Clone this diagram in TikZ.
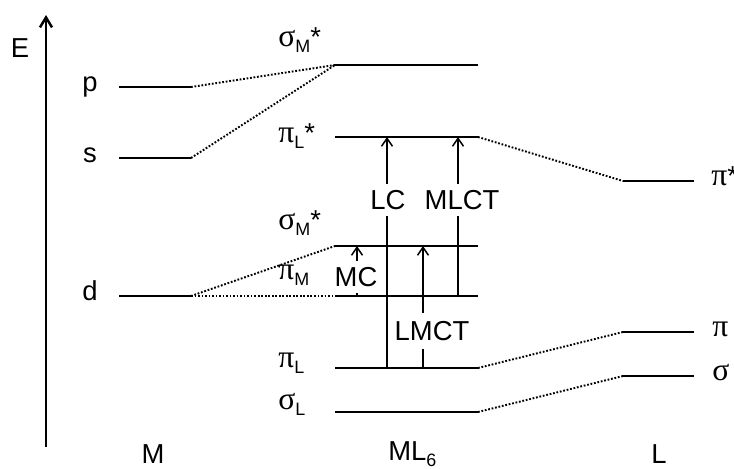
\documentclass[tikz,border=0pt]{standalone}
\usepackage{fontspec}
\setmainfont{Liberation Sans}
\newfontfamily\grk{Liberation Serif}
\usetikzlibrary{arrows.meta}
\tikzset{
	axis/.style   ={line width=1.4pt, -{Straight Barb[length=2mm, width=2.4mm]}},
	level/.style  ={line width=1.15pt},
	corr/.style   ={line width=1.1pt, dash pattern=on 1pt off 1pt},
	trans/.style  ={line width=0.85pt, -{Straight Barb[length=1.6mm, width=2.2mm]}},
	tlab/.style   ={fill=white, inner xsep=1pt, inner ysep=3.5pt, text depth=0pt},
	orb/.style    ={anchor=base west, inner sep=0pt},
	atom/.style   ={anchor=mid, inner sep=0pt},
	axlab/.style  ={anchor=base, inner sep=0pt},
}
\newcommand{\orbl}[3]{{\grk\fontsize{18}{20}\selectfont #1}\raisebox{-0.11cm}{\fontsize{10.2}{12}\selectfont #2}#3}

\begin{document}
\begin{tikzpicture}[x=0.02cm, y=-0.02cm, font=\fontsize{15.6}{18}\selectfont]
	\useasboundingbox (0,0) rectangle (734,469);
	% energy axis
	\coordinate (axB) at (46,447);
	\coordinate (axT) at (46,15);
	\draw[axis] (axB) -- (axT);
	\node[axlab] (E) at (20,58) {E};
	% levels: metal, complex, ligand
	\foreach \n/\xa/\xb/\y in {Mp/119/191/87, Ms/119/191/158, Md/119/191/296,
		Csa/335/478/65, Cpla/335/478/137, Csb/335/478/246, Cpm/335/478/296, Cpl/335/478/368, Csl/335/478/412,
		Lpa/623/694/181, Lp/623/694/332, Ls/623/694/376}
	{
		\coordinate (\n-W) at (\xa,\y);
		\coordinate (\n-E) at (\xb,\y);
		\draw[level] (\n-W) -- (\n-E);
	}
	% correlation lines
	\draw[corr] (Mp-E) -- (Csa-W);
	\draw[corr] (Ms-E) -- (Csa-W);
	\draw[corr] (Md-E) -- (Csb-W);
	\draw[corr] (Md-E) -- (Cpm-W);
	\draw[corr] (Cpla-E) -- (Lpa-W);
	\draw[corr] (Cpl-E) -- (Lp-W);
	\draw[corr] (Csl-E) -- (Ls-W);
	% level labels
	\node[atom] (lbp) at (90,87) {p};
	\node[atom] (lbs) at (90,158) {s};
	\node[atom] (lbd) at (90,296) {d};
	\node[orb] (lbCsa) at (278,47) {\orbl{σ}{M}{*}};
	\node[orb] (lbCpla) at (278,143) {\orbl{π}{L}{*}};
	\node[orb] (lbCsb) at (278,230) {\orbl{σ}{M}{*}};
	\node[orb] (lbCpm) at (278,280) {\orbl{π}{M}{}};
	\node[orb] (lbCpl) at (278,368) {\orbl{π}{L}{}};
	\node[orb] (lbCsl) at (278,410) {\orbl{σ}{L}{}};
	\node[orb] (lbLpa) at (711,186) {{\grk\fontsize{18}{20}\selectfont π}*};
	\node[orb] (lbLp) at (712,337) {{\grk\fontsize{18}{20}\selectfont π}};
	\node[orb] (lbLs) at (712,381) {{\grk\fontsize{18}{20}\selectfont σ}};
	% transitions
	\coordinate (lcA) at (387,368);
	\coordinate (lcB) at (387,137);
	\coordinate (mlA) at (458,296);
	\coordinate (mlB) at (458,137);
	\coordinate (mcA) at (357,296);
	\coordinate (mcB) at (357,246);
	\coordinate (lmA) at (423,368);
	\coordinate (lmB) at (423,246);
	\draw[trans] (lcA) -- (lcB);
	\draw[trans] (mlA) -- (mlB);
	\draw[trans] (mcA) -- (mcB);
	\draw[trans] (lmA) -- (lmB);
	\node[tlab] (lc) at (388,200) {LC};
	\node[tlab] (mlct) at (462,200) {MLCT};
	\node[tlab] (mc) at (356,277) {MC};
	\node[tlab, inner ysep=5pt] (lmct) at (432,331) {LMCT};
	% column labels
	\node[axlab] (colM) at (153,464) {M};
	\node[orb] (colC) at (388,461) {ML\raisebox{-0.11cm}{\fontsize{10.2}{12}\selectfont 6}};
	\node[axlab] (colL) at (659,464) {L};
\end{tikzpicture}
\end{document}
